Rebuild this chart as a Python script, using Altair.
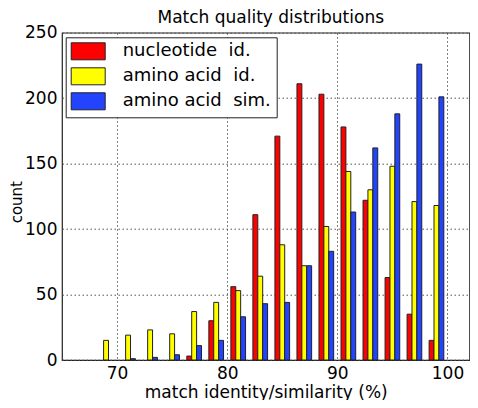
import altair as alt
import pandas as pd

# ---- data ----
centers = [69, 71, 73, 75, 77, 79, 81, 83, 85, 87, 89, 91, 93, 95, 97, 99]
series_names = ["nucleotide\u00a0\u00a0id.", "amino acid\u00a0\u00a0id.", "amino acid\u00a0\u00a0sim."]
nucleotide_id = [0, 0, 0, 0, 3, 30, 56, 111, 171, 211, 203, 178, 122, 63, 35, 15]
amino_acid_id = [15, 19, 23, 20, 37, 44, 53, 64, 88, 72, 102, 144, 130, 148, 121, 118]
amino_acid_sim = [0, 1, 2, 4, 11, 15, 33, 43, 44, 72, 83, 113, 162, 188, 226, 201]
colors = ["#ff0000", "#ffff00", "#2244ff"]
x_ticks = [70, 80, 90, 100]
y_ticks = [0, 50, 100, 150, 200, 250]

rows = []
for i, (name, vals) in enumerate(zip(series_names, [nucleotide_id, amino_acid_id, amino_acid_sim])):
    for c, v in zip(centers, vals):
        rows.append({"series": name, "idx": i, "center": c, "n": v})
df = pd.DataFrame(rows)

FONT = "DejaVu Sans"
FS = 17
W = 407.5
H = 327.3

chart = (
    alt.Chart(df)
    .transform_filter("datum.n > 0")
    .transform_calculate(
        x0="datum.center - 2/3 + datum.idx * 4/9",
        x1="datum.center - 2/3 + (datum.idx + 1) * 4/9",
    )
    .mark_rect(stroke="#222222", strokeWidth=1)
    .encode(
        x=alt.X(
            "x0:Q",
            scale=alt.Scale(domain=[65, 102], nice=False, zero=False),
            axis=alt.Axis(
                values=x_ticks,
                title="match identity/similarity (%)",
                grid=True,
                ticks=False,
                tickSize=0,
                domain=False,
                labelPadding=5,
                labelFlush=False,
                titleX=W / 2,
                titleY=37,
                titleBaseline="alphabetic",
                titleAlign="center",
            ),
        ),
        x2="x1:Q",
        y=alt.Y(
            "n:Q",
            scale=alt.Scale(domain=[0, 250], nice=False),
            axis=alt.Axis(
                values=y_ticks,
                title="count",
                titleFontSize=15,
                grid=True,
                ticks=False,
                tickSize=0,
                domain=False,
                labelPadding=5,
                titleX=-45.5,
                titleY=169,
                titleAngle=270,
                titleBaseline="middle",
                titleAlign="center",
            ),
        ),
        y2=alt.datum(0),
        color=alt.Color(
            "series:N",
            sort=series_names,
            scale=alt.Scale(domain=series_names, range=colors),
            legend=alt.Legend(
                title=None,
                orient="none",
                legendX=3.7,
                legendY=4.6,
                symbolType="M-1,-1H3V1H-1Z",
                symbolSize=289,
                symbolStrokeColor="#222222",
                symbolStrokeWidth=1,
                symbolOpacity=1,
                labelOffset=34,
                labelFontSize=18,
                labelFont=FONT,
                labelColor="black",
                padding=5,
                rowPadding=3,
                strokeColor="#222222",
                fillColor="white",
            ),
        ),
    )
    .properties(
        width=W,
        height=H,
        autosize=alt.AutoSizeParams(type="none"),
        padding={"left": 54, "top": 24.7, "right": 0, "bottom": 40},
        title=alt.Title(
            "Match quality distributions",
            fontSize=FS,
            fontWeight="normal",
            font=FONT,
            color="black",
            anchor="middle",
            frame="group",
            offset=0,
            dx=5,
            dy=3,
        ),
    )
    .configure_axis(
        labelFont=FONT,
        labelFontSize=FS,
        labelColor="black",
        titleFont=FONT,
        titleFontSize=FS,
        titleFontWeight="normal",
        titleColor="black",
        gridColor="#555555",
        gridDash=[1.5, 2.5],
        gridWidth=1,
        gridOpacity=1,
    )
    .configure_view(stroke="#222222", strokeWidth=1.2)
)

chart.save("out.html", embed_options={"renderer": "svg", "actions": False})
